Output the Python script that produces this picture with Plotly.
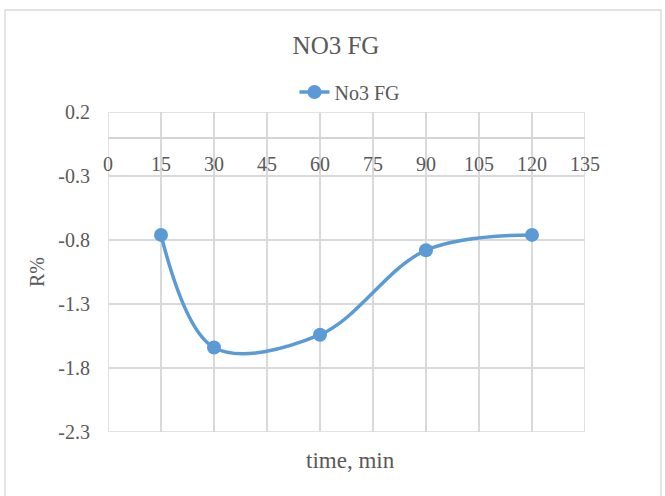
import plotly.graph_objects as go

time_min = [15, 30, 60, 90, 120]
r_pct = [-0.76, -1.64, -1.54, -0.88, -0.76]
series_name = "No3 FG"
x_ticks = [0, 15, 30, 45, 60, 75, 90, 105, 120, 135]
y_ticks = [0.2, -0.3, -0.8, -1.3, -1.8, -2.3]
y_ticktext = ["0.2", "-0.3", "-0.8", "-1.3", "-1.8", "-2.3"]

W, H = 665, 496
L, R, T, B = 108, 80, 112, 64
PW, PH = W - L - R, H - T - B
FONT = "Liberation Serif, Times New Roman, serif"
GRID = "#d9d9d9"
TXT = "#595959"
BLUE = "#5b9bd5"

ymin, ymax = -2.3, 0.2
xmin, xmax = 0, 135

fig = go.Figure()
fig.add_trace(go.Scatter(
    x=time_min, y=r_pct, name=series_name, mode="lines+markers",
    line=dict(color=BLUE, width=3.5, shape="spline", smoothing=1),
    marker=dict(color=BLUE, size=14),
))

fig.update_layout(
    width=W, height=H,
    margin=dict(l=L, r=R, t=T, b=B),
    paper_bgcolor="white", plot_bgcolor="white",
    font=dict(family=FONT, size=20, color=TXT),
    title=dict(text="NO3 FG", x=336 / W, xanchor="center", y=1 - 45 / H, yanchor="middle",
               font=dict(family=FONT, size=25, color=TXT)),
    showlegend=True,
    legend=dict(orientation="h", x=(350 - L) / PW, xanchor="center", y=1 + (T - 92) / PH, yanchor="middle",
                font=dict(family=FONT, size=20, color=TXT), bgcolor="rgba(0,0,0,0)"),
    xaxis=dict(range=[xmin, xmax], tickvals=x_ticks, showgrid=True, gridcolor=GRID, gridwidth=1.5,
               showticklabels=False, showline=False, ticks="", zeroline=False),
    yaxis=dict(range=[ymin, ymax], tickvals=y_ticks, ticktext=y_ticktext, showgrid=True,
               gridcolor=GRID, gridwidth=1.5, zeroline=True, zerolinecolor="#d4d4d4", zerolinewidth=1.5,
               showline=False, ticks="outside", ticklen=13, tickcolor="rgba(0,0,0,0)",
               tickfont=dict(family=FONT, size=20, color=TXT)),
    shapes=[
        dict(type="line", xref="x", yref="y", x0=xmin, x1=xmin, y0=ymin, y1=ymax, line=dict(color=GRID, width=1.5), layer="below"),
        dict(type="line", xref="x", yref="y", x0=xmax, x1=xmax, y0=ymin, y1=ymax, line=dict(color=GRID, width=1.5), layer="below"),
        dict(type="line", xref="x", yref="y", x0=xmin, x1=xmax, y0=ymin, y1=ymin, line=dict(color=GRID, width=1.5), layer="below"),
        dict(type="line", xref="x", yref="y", x0=xmin, x1=xmax, y0=ymax, y1=ymax, line=dict(color=GRID, width=1.5), layer="below"),
        dict(type="rect", xref="paper", yref="paper",
             x0=(5 - L) / PW, x1=(661 - L) / PW,
             y0=-(B + 5) / PH, y1=1 + (T - 10) / PH,
             line=dict(color="#d9d9d9", width=1.3), fillcolor="rgba(0,0,0,0)", layer="below"),
    ],
)
for t in x_ticks:
    fig.add_annotation(text=str(t), x=t, y=0, xref="x", yref="y", showarrow=False,
                       yanchor="middle", xanchor="center", yshift=-26,
                       font=dict(family=FONT, size=20, color=TXT))
fig.add_annotation(text="time, min", xref="paper", yref="paper", x=(350 - L) / PW, y=-(460 - (H - B)) / PH,
                   showarrow=False, yanchor="middle", xanchor="center",
                   font=dict(family=FONT, size=23, color=TXT))
fig.add_annotation(text="R%", xref="paper", yref="paper", x=(37 - L) / PW, y=1 - (272 - T) / PH,
                   showarrow=False, yanchor="middle", xanchor="center", textangle=-90,
                   font=dict(family=FONT, size=20, color=TXT))
fig.write_html("out.html")
